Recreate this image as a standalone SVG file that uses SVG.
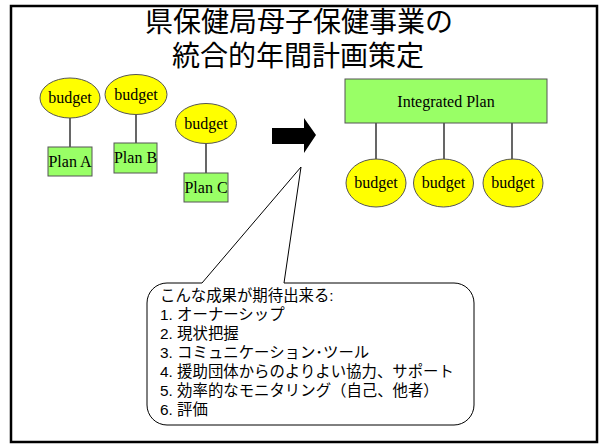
<svg xmlns="http://www.w3.org/2000/svg" width="600" height="447" viewBox="0 0 600 447">
<style>
.bud{fill:#FFFF00;stroke:#555;stroke-width:1}
.plan{fill:#99FF66;stroke:#555;stroke-width:1}
.lbl{font-family:"Liberation Serif","Times New Roman",serif;font-size:16px;fill:#000;text-anchor:middle}
.conn{stroke:#000;stroke-width:1.2;fill:none}
.title{font-family:"Liberation Sans","Noto Sans CJK JP",sans-serif;font-size:28px;fill:#000;text-anchor:middle}
.jp{font-family:"Liberation Sans","Noto Sans CJK JP",sans-serif;font-size:15.4px;fill:#000}
</style>
<rect x="0" y="0" width="600" height="447" fill="#fff"/>
<rect x="11" y="6" width="586" height="436" fill="#fff" stroke="#000" stroke-width="2.5"/>
<g id="title">
<text class="title" x="299" y="32">県保健局母子保健事業の</text>
<text class="title" x="298" y="66">統合的年間計画策定</text>
</g>
<g id="connectors">
<line class="conn" x1="70" y1="118" x2="70" y2="147"/>
<line class="conn" x1="136" y1="114" x2="136" y2="143"/>
<line class="conn" x1="206" y1="143" x2="206" y2="173"/>
<line class="conn" x1="376" y1="123" x2="376" y2="159"/>
<line class="conn" x1="444" y1="123" x2="444" y2="159"/>
<line class="conn" x1="512" y1="123" x2="512" y2="159"/>
</g>
<g id="budgetA"><ellipse class="bud" cx="70" cy="98" rx="30" ry="20"/><text class="lbl" x="70" y="103">budget</text></g>
<g id="budgetB"><ellipse class="bud" cx="136" cy="94.5" rx="31" ry="20"/><text class="lbl" x="136" y="99.5">budget</text></g>
<g id="budgetC"><ellipse class="bud" cx="206" cy="123.5" rx="30.5" ry="20"/><text class="lbl" x="206" y="128.5">budget</text></g>
<g id="planA"><rect class="plan" x="48" y="147" width="44" height="29"/><text class="lbl" x="70" y="167">Plan A</text></g>
<g id="planB"><rect class="plan" x="114" y="143" width="43" height="30"/><text class="lbl" x="135.5" y="163">Plan B</text></g>
<g id="planC"><rect class="plan" x="184" y="173" width="44" height="29"/><text class="lbl" x="206" y="193">Plan C</text></g>
<g id="arrow"><polygon points="272,128 304,128 304,118 316,135 304,153 304,144 272,144" fill="#000"/></g>
<g id="integrated"><rect class="plan" x="345" y="79" width="202" height="44"/><text class="lbl" x="446" y="107">Integrated Plan</text></g>
<g id="budget1"><ellipse class="bud" cx="376" cy="183" rx="30" ry="24"/><text class="lbl" x="376" y="188">budget</text></g>
<g id="budget2"><ellipse class="bud" cx="443.5" cy="183" rx="30" ry="24"/><text class="lbl" x="443.5" y="188">budget</text></g>
<g id="budget3"><ellipse class="bud" cx="513" cy="183" rx="30" ry="24"/><text class="lbl" x="513" y="188">budget</text></g>
<g id="callout">
<path d="M202,283 L301,167 L284,283 L454,283 A20,20 0 0 1 474,303 L474,405 A20,20 0 0 1 454,425 L167,425 A20,20 0 0 1 147,405 L147,303 A20,20 0 0 1 167,283 Z" fill="#fff" stroke="#000" stroke-width="1"/>
<text class="jp" x="160" y="301">こんな成果が期待出来る:</text>
<text class="jp" x="160" y="320">1. オーナーシップ</text>
<text class="jp" x="160" y="339">2. 現状把握</text>
<text class="jp" x="160" y="358">3. コミュニケーション･ツール</text>
<text class="jp" x="160" y="377">4. 援助団体からのよりよい協力、サポート</text>
<text class="jp" x="160" y="396">5. 効率的なモニタリング（自己、他者）</text>
<text class="jp" x="160" y="415">6. 評価</text>
</g>
</svg>
